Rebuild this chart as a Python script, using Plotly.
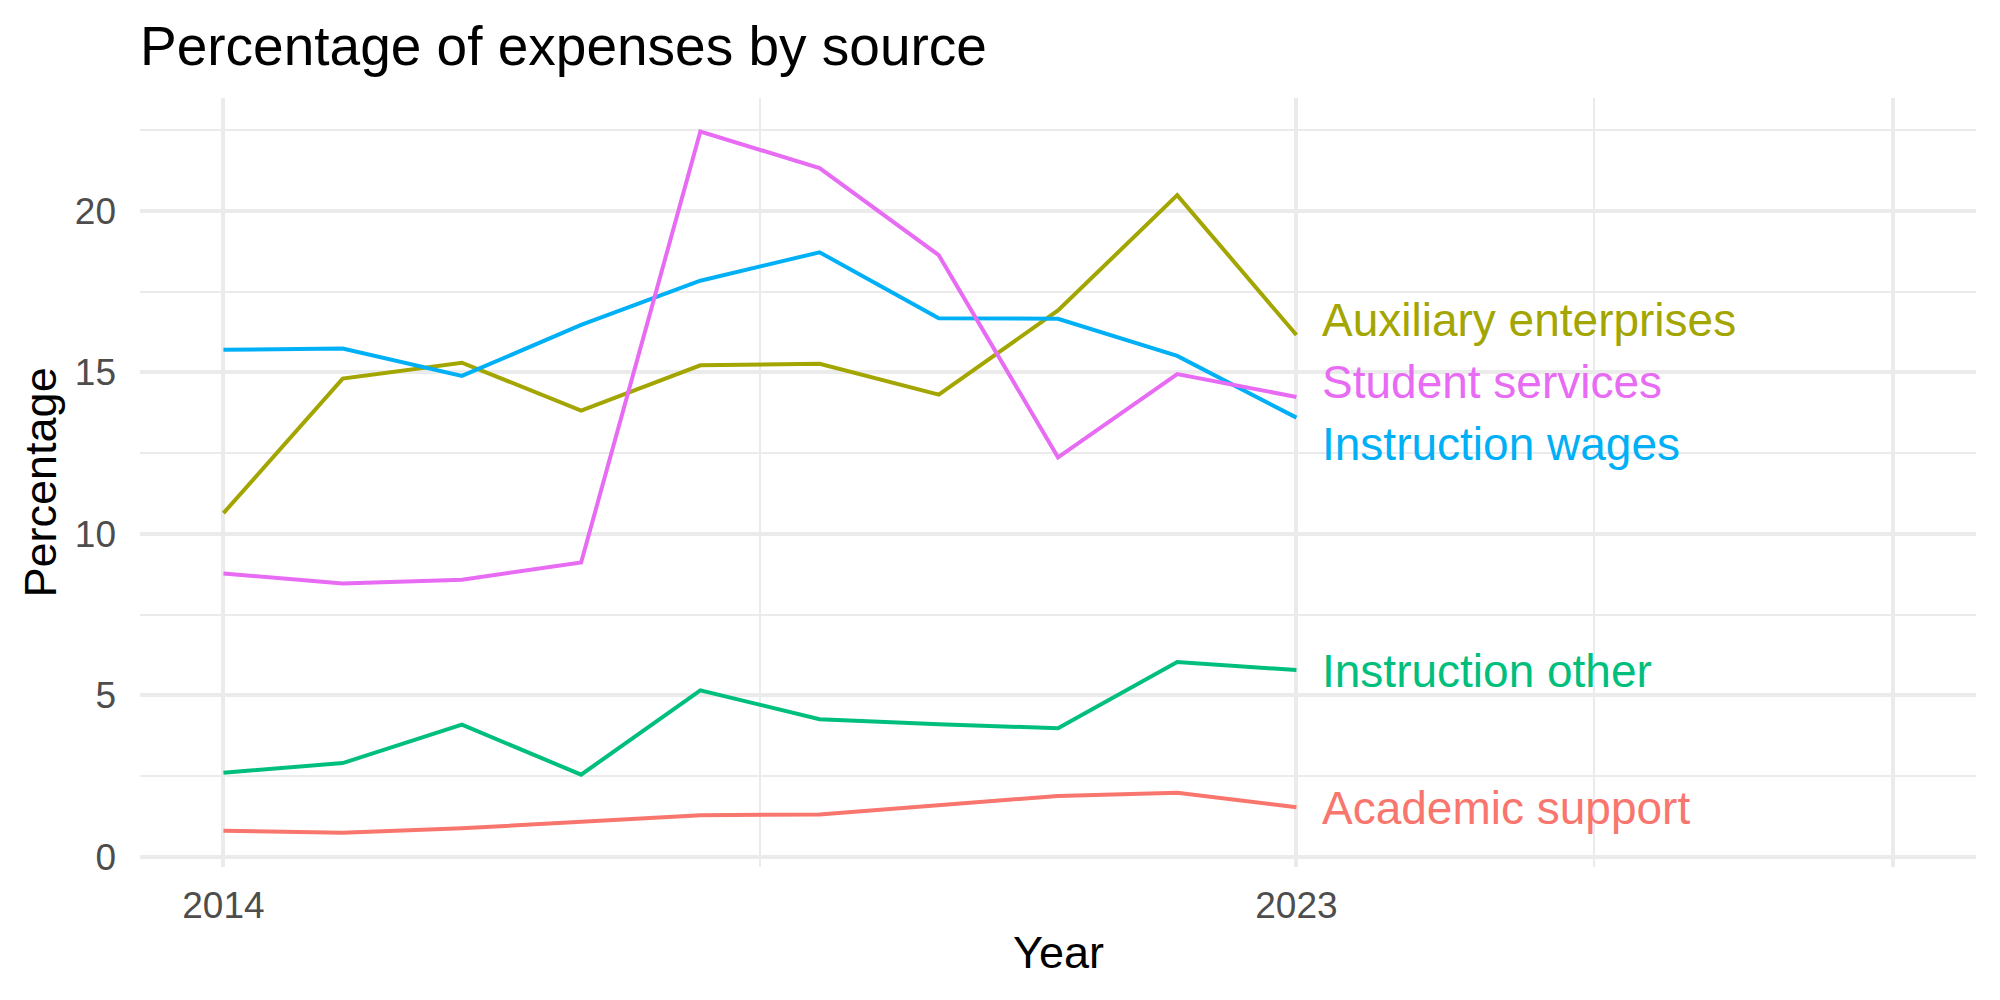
import plotly.graph_objects as go

years = [2014, 2015, 2016, 2017, 2018, 2019, 2020, 2021, 2022, 2023]

academic_support = [0.80, 0.74, 0.88, 1.07, 1.28, 1.31, 1.58, 1.88, 1.98, 1.53]
auxiliary_enterprises = [10.64, 14.81, 15.30, 13.82, 15.22, 15.27, 14.31, 16.92, 20.49, 16.16]
instruction_other = [2.60, 2.90, 4.09, 2.54, 5.15, 4.26, 4.10, 3.98, 6.03, 5.78]
instruction_wages = [15.70, 15.74, 14.89, 16.47, 17.84, 18.72, 16.68, 16.66, 15.51, 13.60]
student_services = [8.77, 8.46, 8.58, 9.11, 22.46, 21.33, 18.63, 12.37, 14.95, 14.24]

series_names = ["Academic support", "Auxiliary enterprises", "Instruction other",
                "Instruction wages", "Student services"]
series_values = [academic_support, auxiliary_enterprises, instruction_other,
                 instruction_wages, student_services]
colors = ["#F8766D", "#A3A500", "#00BF7D", "#00B0F6", "#E76BF3"]

# label positions (y) at the right end, spread to avoid overlap
label_y = [1.52, 16.62, 5.75, 12.79, 14.70]
label_x = 2023.2

x_tickvals = [2014, 2023, 2028]
x_ticktext = ["2014", "2023", ""]
x_minor = [2018.5, 2025.5]
y_tickvals = [0, 5, 10, 15, 20]
y_minor = [2.5, 7.5, 12.5, 17.5, 22.5]

FONT = "Liberation Sans, Arial, Helvetica, sans-serif"

fig = go.Figure()
for name, vals, col in zip(series_names, series_values, colors):
    fig.add_trace(go.Scatter(x=years, y=vals, mode="lines", name=name,
                             line=dict(color=col, width=4), showlegend=False))

for name, ly, col in zip(series_names, label_y, colors):
    fig.add_annotation(x=label_x, y=ly, xref="x", yref="y", text=name,
                       showarrow=False, xanchor="left", yanchor="middle",
                       font=dict(family=FONT, size=46, color=col))

grid_major = "#EBEBEB"
fig.update_layout(
    width=2000, height=1000,
    margin=dict(l=140, r=24, t=98, b=133),
    paper_bgcolor="white", plot_bgcolor="white",
    font=dict(family=FONT, color="#000000"),
    title=dict(text="Percentage of expenses by source", x=140/2000, xanchor="left",
               xref="container", y=1 - 46/1000, yref="container", yanchor="middle",
               font=dict(family=FONT, size=55, color="black")),
    xaxis=dict(range=[2013.3, 2028.7], tickmode="array", tickvals=x_tickvals,
               ticktext=x_ticktext, showgrid=True, gridcolor=grid_major, gridwidth=3.8,
               zeroline=False, showline=False, ticks="",
               tickfont=dict(family=FONT, size=37, color="#4D4D4D"),
               ticklabelstandoff=13,
               minor=dict(tickmode="array", tickvals=x_minor, showgrid=True,
                          gridcolor=grid_major, gridwidth=2, ticks="")),
    yaxis=dict(range=[-0.32, 23.50], tickmode="array", tickvals=y_tickvals,
               showgrid=True, gridcolor=grid_major, gridwidth=3.8,
               zeroline=False, showline=False, ticks="",
               tickfont=dict(family=FONT, size=37, color="#4D4D4D"),
               ticklabelstandoff=23,
               minor=dict(tickmode="array", tickvals=y_minor, showgrid=True,
                          gridcolor=grid_major, gridwidth=2, ticks="")),
)

fig.add_annotation(text="Year", xref="paper", yref="paper", x=0.5, y=(867 - 952) / 769,
                   showarrow=False, xanchor="center", yanchor="middle",
                   font=dict(family=FONT, size=45, color="black"))
fig.add_annotation(text="Percentage", xref="paper", yref="paper", x=(40 - 140) / 1836, y=0.5,
                   showarrow=False, xanchor="center", yanchor="middle", textangle=-90,
                   font=dict(family=FONT, size=45, color="black"))

fig.write_html("out.html")
